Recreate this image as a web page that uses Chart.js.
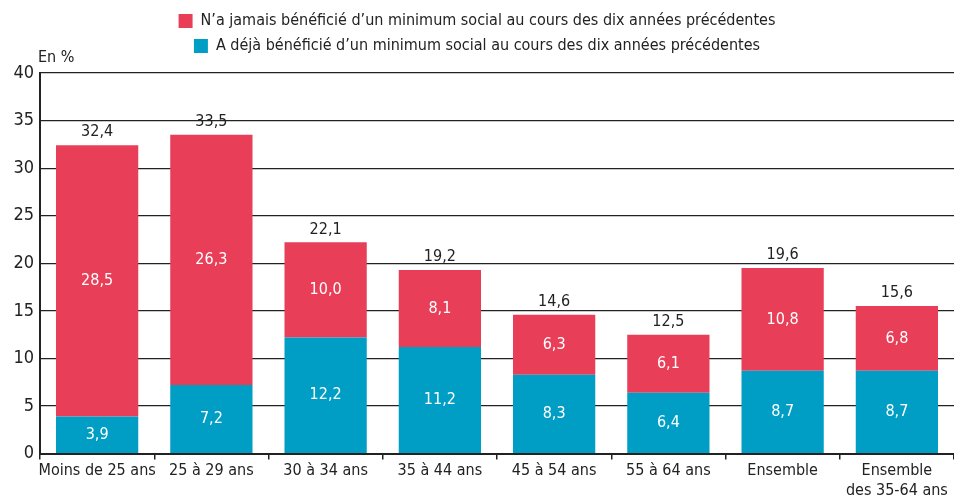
<!DOCTYPE html>
<html>
<head>
<meta charset="utf-8">
<script src="https://cdn.jsdelivr.net/npm/chart.js@4"></script>
<style>
  html, body { margin: 0; padding: 0; background: #fff; }
  #wrap { width: 954px; height: 502px; }
</style>
</head>
<body>
<div id="wrap"><canvas id="chart"></canvas></div>
<script>
var categories = ["Moins de 25 ans", "25 à 29 ans", "30 à 34 ans", "35 à 44 ans", "45 à 54 ans", "55 à 64 ans", "Ensemble", ["Ensemble", "des 35-64 ans"]];
var dejaBeneficie = [3.9, 7.2, 12.2, 11.2, 8.3, 6.4, 8.7, 8.7];
var jamaisBeneficie = [28.5, 26.3, 10.0, 8.1, 6.3, 6.1, 10.8, 6.8];
var totals = [32.4, 33.5, 22.1, 19.2, 14.6, 12.5, 19.6, 15.6];
var yTicks = [0, 5, 10, 15, 20, 25, 30, 35, 40];

var FONT = "'Liberation Sans Narrow', 'DejaVu Sans Condensed', sans-serif";
var RED = "#e83e58";
var BLUE = "#009ec4";

function fmt(v) { return v.toFixed(1).replace(".", ","); }

// leave more room between the legend and the plot
var legendGap = {
  id: "legendGap",
  beforeUpdate: function (chart) {
    var lg = chart.legend;
    if (lg && !lg._gapPatched) {
      var fit = lg.fit;
      lg.fit = function () { fit.call(this); this.height += 9; };
      lg._gapPatched = true;
    }
  }
};

var labelsPlugin = {
  id: "barLabels",
  afterDatasetsDraw: function (chart) {
    var ctx = chart.ctx;
    ctx.save();
    ctx.font = "16px " + FONT;
    ctx.textAlign = "center";
    ctx.textBaseline = "middle";
    chart.data.datasets.forEach(function (ds, i) {
      var meta = chart.getDatasetMeta(i);
      meta.data.forEach(function (bar, j) {
        ctx.fillStyle = "#fff";
        ctx.fillText(fmt(ds.data[j]), bar.x, (bar.y + bar.base) / 2);
      });
    });
    var top = chart.getDatasetMeta(1);
    ctx.fillStyle = "#222";
    ctx.textBaseline = "bottom";
    top.data.forEach(function (bar, j) {
      ctx.fillText(fmt(totals[j]), bar.x, bar.y - 5);
    });
    // unit label
    ctx.textAlign = "left";
    ctx.fillText("En %", chart.chartArea.left - 2, chart.chartArea.top - 7);
    ctx.restore();
  }
};

new Chart(document.getElementById("chart"), {
  type: "bar",
  data: {
    labels: categories,
    datasets: [
      { label: "A déjà bénéficié d’un minimum social au cours des dix années précédentes", data: dejaBeneficie, backgroundColor: BLUE },
      { label: "N’a jamais bénéficié d’un minimum social au cours des dix années précédentes", data: jamaisBeneficie, backgroundColor: RED }
    ]
  },
  options: {
    responsive: true,
    maintainAspectRatio: false,
    animation: false,
    layout: { padding: { top: 4, right: 0, left: 0, bottom: 0 } },
    plugins: {
      tooltip: { enabled: false },
      legend: {
        position: "top",
        reverse: true,
        labels: {
          font: { family: FONT, size: 16 },
          color: "#222",
          boxWidth: 14,
          boxHeight: 14,
          padding: 9
        }
      }
    },
    scales: {
      x: {
        stacked: true,
        barPercentage: 0.69,
        categoryPercentage: 1,
        grid: { offset: true, drawOnChartArea: false, color: "#222", tickLength: 6, lineWidth: 1.5 },
        border: { color: "#222", width: 2 },
        ticks: { font: { family: FONT, size: 16 }, color: "#222", maxRotation: 0, autoSkip: false, padding: 2 }
      },
      y: {
        stacked: true,
        min: 0,
        max: 40,
        afterBuildTicks: function (axis) { axis.ticks = yTicks.map(function (v) { return { value: v }; }); },
        afterFit: function (axis) { axis.width = 40; },
        grid: { color: "#222", lineWidth: 1.2, drawTicks: false },
        border: { color: "#222", width: 2 },
        ticks: { font: { family: FONT, size: 18 }, color: "#222", padding: 6 }
      }
    }
  },
  plugins: [legendGap, labelsPlugin]
});
</script>
</body>
</html>
